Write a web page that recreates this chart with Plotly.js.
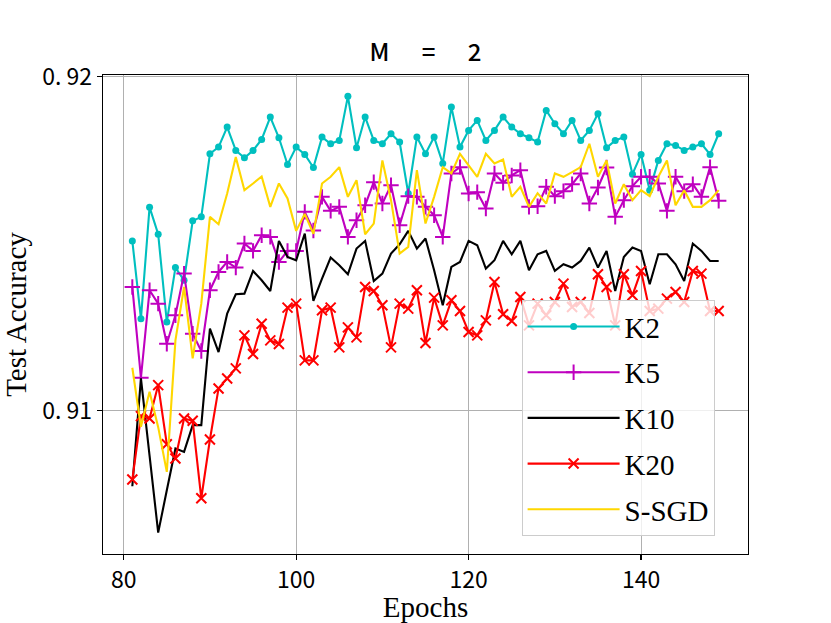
<!DOCTYPE html>
<html>
<head>
<meta charset="utf-8">
<script src="https://cdn.plot.ly/plotly-3.0.1.min.js"></script>
<style>
  html, body { margin: 0; padding: 0; background: #fff; }
  #chart { width: 831px; height: 623px; }
</style>
</head>
<body>
<div id="chart"></div>
<script>
// epochs on the x axis
var epochs = [81, 82, 83, 84, 85, 86, 87, 88, 89, 90, 91, 92, 93, 94, 95, 96, 97, 98, 99, 100,
  101, 102, 103, 104, 105, 106, 107, 108, 109, 110, 111, 112, 113, 114, 115, 116, 117, 118, 119, 120,
  121, 122, 123, 124, 125, 126, 127, 128, 129, 130, 131, 132, 133, 134, 135, 136, 137, 138, 139, 140,
  141, 142, 143, 144, 145, 146, 147, 148, 149];

// test accuracy
var k2 = [0.91508, 0.91275, 0.91609, 0.91528, 0.91265, 0.91428, 0.91390, 0.91568, 0.91580, 0.91769,
  0.91789, 0.91849, 0.91779, 0.91757, 0.91779, 0.91812, 0.91879, 0.91817, 0.91737, 0.91789,
  0.91767, 0.91728, 0.91819, 0.91799, 0.91809, 0.91941, 0.91787, 0.91879, 0.91809, 0.91799,
  0.91829, 0.91804, 0.91650, 0.91819, 0.91769, 0.91819, 0.91740, 0.91909, 0.91789, 0.91839,
  0.91869, 0.91809, 0.91839, 0.91879, 0.91849, 0.91829, 0.91817, 0.91804, 0.91899, 0.91859,
  0.91829, 0.91869, 0.91809, 0.91839, 0.91889, 0.91787, 0.91809, 0.91819, 0.91708, 0.91767,
  0.91660, 0.91749, 0.91799, 0.91794, 0.91779, 0.91789, 0.91799, 0.91767, 0.91829];

var k5 = [0.91370, 0.91098, 0.91360, 0.91320, 0.91200, 0.91285, 0.91410, 0.91230, 0.91178, 0.91360,
  0.91415, 0.91445, 0.91428, 0.91500, 0.91478, 0.91525, 0.91520, 0.91445, 0.91478, 0.91478,
  0.91595, 0.91539, 0.91640, 0.91598, 0.91610, 0.91520, 0.91570, 0.91615, 0.91684, 0.91620,
  0.91675, 0.91555, 0.91642, 0.91640, 0.91610, 0.91585, 0.91520, 0.91710, 0.91729, 0.91650,
  0.91654, 0.91605, 0.91710, 0.91682, 0.91704, 0.91720, 0.91610, 0.91612, 0.91670, 0.91642,
  0.91657, 0.91678, 0.91710, 0.91620, 0.91668, 0.91728, 0.91580, 0.91630, 0.91672, 0.91700,
  0.91700, 0.91680, 0.91598, 0.91700, 0.91657, 0.91678, 0.91640, 0.91729, 0.91628];

var k10 = [0.90773, 0.91096, 0.90865, 0.90634, 0.90761, 0.90886, 0.90876, 0.90956, 0.90956, 0.91245,
  0.91175, 0.91290, 0.91348, 0.91350, 0.91418, 0.91390, 0.91358, 0.91508, 0.91460, 0.91450,
  0.91530, 0.91328, 0.91395, 0.91458, 0.91435, 0.91408, 0.91485, 0.91508, 0.91388, 0.91410,
  0.91470, 0.91498, 0.91538, 0.91485, 0.91515, 0.91420, 0.91315, 0.91430, 0.91445, 0.91508,
  0.91495, 0.91425, 0.91450, 0.91508, 0.91468, 0.91508, 0.91420, 0.91468, 0.91478, 0.91418,
  0.91438, 0.91428, 0.91448, 0.91488, 0.91428, 0.91478, 0.91358, 0.91460, 0.91488, 0.91478,
  0.91378, 0.91468, 0.91468, 0.91438, 0.91388, 0.91500, 0.91478, 0.91448, 0.91448];

var k20 = [0.90793, 0.90983, 0.90976, 0.91076, 0.90899, 0.90856, 0.90976, 0.90969, 0.90737, 0.90913,
  0.91066, 0.91096, 0.91126, 0.91225, 0.91169, 0.91260, 0.91210, 0.91199, 0.91308, 0.91320,
  0.91150, 0.91150, 0.91300, 0.91308, 0.91189, 0.91249, 0.91219, 0.91370, 0.91358, 0.91315,
  0.91189, 0.91320, 0.91305, 0.91360, 0.91202, 0.91338, 0.91255, 0.91330, 0.91298, 0.91235,
  0.91225, 0.91270, 0.91385, 0.91288, 0.91268, 0.91340, 0.91255, 0.91320, 0.91285, 0.91325,
  0.91380, 0.91310, 0.91325, 0.91292, 0.91408, 0.91370, 0.91255, 0.91408, 0.91345, 0.91418,
  0.91298, 0.91305, 0.91335, 0.91355, 0.91325, 0.91418, 0.91410, 0.91298, 0.91298];

var ssgd = [0.91128, 0.90951, 0.91056, 0.90950, 0.90816, 0.91210, 0.91370, 0.91156, 0.91320, 0.91580,
  0.91558, 0.91650, 0.91759, 0.91660, 0.91680, 0.91701, 0.91610, 0.91680, 0.91635, 0.91538,
  0.91589, 0.91529, 0.91680, 0.91700, 0.91729, 0.91640, 0.91690, 0.91528, 0.91560, 0.91749,
  0.91630, 0.91470, 0.91490, 0.91720, 0.91560, 0.91640, 0.91729, 0.91710, 0.91769, 0.91734,
  0.91700, 0.91769, 0.91740, 0.91752, 0.91640, 0.91670, 0.91610, 0.91651, 0.91620, 0.91710,
  0.91700, 0.91714, 0.91729, 0.91799, 0.91700, 0.91749, 0.91620, 0.91678, 0.91630, 0.91660,
  0.91642, 0.91700, 0.91749, 0.91615, 0.91660, 0.91610, 0.91610, 0.91630, 0.91660];

var yTicks = [0.91, 0.92];
var yTickText = ['0. 91', '0. 92'];
var xTicks = [80, 100, 120, 140];

var serif = '"Liberation Serif", "Times New Roman", serif';
var hei = '"Noto Sans CJK SC", "Noto Sans", sans-serif';

try {
  var traceK2 = {
    x: epochs, y: k2, name: 'K2', legendgroup: 'a',
    mode: 'lines+markers', type: 'scatter',
    line: { color: '#00bfbf', width: 2.1 },
    marker: { symbol: 'circle', size: 7, color: '#00bfbf' }
  };
  var traceK5 = {
    x: epochs, y: k5, name: 'K5', legendgroup: 'b',
    mode: 'lines+markers', type: 'scatter',
    line: { color: '#bf00bf', width: 2.1 },
    marker: { symbol: 'cross-thin', size: 11, color: '#bf00bf', line: { color: '#bf00bf', width: 2 } }
  };
  var traceK10 = {
    x: epochs, y: k10, name: 'K10', legendgroup: 'c',
    mode: 'lines', type: 'scatter',
    line: { color: '#000000', width: 2.1 }
  };
  var traceK20 = {
    x: epochs, y: k20, name: 'K20', legendgroup: 'd',
    mode: 'lines+markers', type: 'scatter',
    line: { color: '#ff0000', width: 2.1 },
    marker: { symbol: 'x-thin', size: 10, color: '#ff0000', line: { color: '#ff0000', width: 2 } }
  };
  var traceSSGD = {
    x: epochs, y: ssgd, name: 'S-SGD', legendgroup: 'e',
    mode: 'lines', type: 'scatter',
    line: { color: '#ffd700', width: 2.1 }
  };

  var data = [traceK2, traceK5, traceK10, traceK20, traceSSGD];

  var layout = {
    width: 831,
    height: 623,
    paper_bgcolor: '#ffffff',
    plot_bgcolor: '#ffffff',
    margin: { l: 103, r: 83, t: 75, b: 69, pad: 0 },
    showlegend: true,
    title: {
      text: 'M\u00a0\u00a0\u00a0\u00a0\u00a0\u00a0=\u00a0\u00a0\u00a0\u00a0\u00a0\u00a02',
      font: { family: hei, size: 24, color: '#000', weight: 500 },
      x: 0.512, xanchor: 'center',
      y: 0.916, yanchor: 'middle'
    },
    xaxis: {
      range: [77.6, 152.4],
      tickvals: xTicks,
      ticks: 'outside', ticklen: 5, tickwidth: 1.2, tickcolor: '#000',
      showgrid: true, gridcolor: '#b0b0b0', gridwidth: 1,
      zeroline: false,
      showline: true, mirror: true, linecolor: '#000', linewidth: 1.3,
      tickfont: { family: hei, size: 23, color: '#000' },
      title: { text: 'Epochs', font: { family: serif, size: 29, color: '#000' }, standoff: 4 }
    },
    yaxis: {
      range: [0.9057, 0.92005],
      tickvals: yTicks,
      ticktext: yTickText,
      ticks: 'outside', ticklen: 5, tickwidth: 1.2, tickcolor: '#000',
      showgrid: true, gridcolor: '#b0b0b0', gridwidth: 1,
      zeroline: false,
      showline: true, mirror: true, linecolor: '#000', linewidth: 1.3,
      tickfont: { family: hei, size: 23, color: '#000' },
      title: { text: 'Test Accuracy', font: { family: serif, size: 29, color: '#000' }, standoff: 12 }
    },
    legend: {
      x: 0.649, xanchor: 'left',
      y: 0.53, yanchor: 'top',
      bgcolor: 'rgba(255,255,255,0.8)',
      bordercolor: '#cccccc', borderwidth: 1,
      font: { family: serif, size: 29, color: '#000' },
      tracegroupgap: 5,
      itemwidth: 92
    }
  };

  Plotly.newPlot('chart', data, layout, { displayModeBar: false, staticPlot: true });
} catch (e) {
  console.log('failed');
  console.log(e);
}
</script>
</body>
</html>
